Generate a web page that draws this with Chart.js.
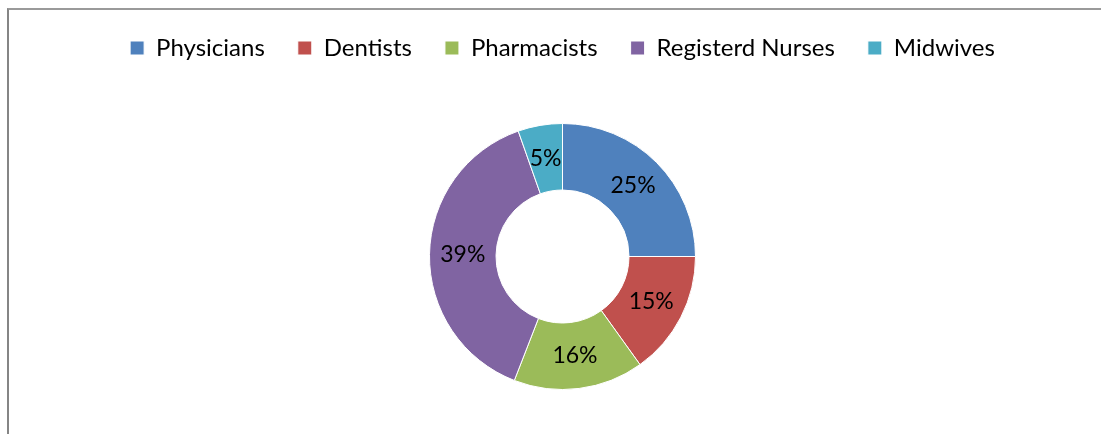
<!DOCTYPE html>
<html>
<head>
<meta charset="utf-8">
<script src="https://cdn.jsdelivr.net/npm/chart.js@4"></script>
<style>
  html, body { margin: 0; padding: 0; background: #fff; }
  #wrap { position: relative; width: 1101px; height: 434px; overflow: hidden; }
  #frame {
    position: absolute; left: 7px; top: 8px; width: 1200px; height: 500px;
    border-left: 2px solid #858585; border-top: 2px solid #9a9a9a;
    pointer-events: none;
  }
  canvas { position: absolute; left: 0; top: 0; }
</style>
</head>
<body>
<div id="wrap">
  <div id="frame"></div>
  <canvas id="chart" width="1101" height="434"></canvas>
</div>
<script>
// health workforce share
const categories = ["Physicians", "Dentists", "Pharmacists", "Registerd Nurses", "Midwives"];
const shares = [25.0, 15.1, 15.8, 38.7, 5.4];
const colors = ["#4F81BD", "#C0504D", "#9BBB59", "#8064A2", "#4BACC6"];

const fontFamily = "Lato, 'Noto Sans', sans-serif";

// push the doughnut down a bit below the legend
const legendGap = {
    id: "legendGap",
    beforeInit(chart) {
        const fit = chart.legend.fit;
        chart.legend.fit = function() {
            fit.bind(chart.legend)();
            this.height += 53;
        };
    }
};

// percent labels in the middle of each ring segment
const sliceLabels = {
    id: "sliceLabels",
    afterDatasetsDraw(chart) {
        const ctx = chart.ctx;
        const data = chart.data.datasets[0].data;
        const total = data.reduce((a, b) => a + b, 0);
        ctx.save();
        ctx.font = "23px " + fontFamily;
        ctx.fillStyle = "#000";
        ctx.textAlign = "center";
        ctx.textBaseline = "middle";
        chart.getDatasetMeta(0).data.forEach((arc, i) => {
            const p = arc.tooltipPosition();
            ctx.fillText(Math.round(data[i] / total * 100) + "%", p.x, p.y);
        });
        ctx.restore();
    }
};

new Chart(document.getElementById("chart").getContext("2d"), {
    type: "doughnut",
    data: {
        labels: categories,
        datasets: [{
            data: shares,
            backgroundColor: colors,
            borderColor: "#ffffff",
            borderWidth: 1
        }]
    },
    options: {
        responsive: false,
        animation: false,
        cutout: "50%",
        layout: { padding: { top: 3, bottom: 44, left: 24, right: 0 } },
        plugins: {
            legend: {
                position: "top",
                labels: {
                    boxWidth: 14,
                    boxHeight: 14,
                    padding: 33,
                    color: "#000",
                    font: { family: fontFamily, size: 24 }
                }
            },
            tooltip: { enabled: false }
        }
    },
    plugins: [legendGap, sliceLabels]
});
</script>
</body>
</html>
